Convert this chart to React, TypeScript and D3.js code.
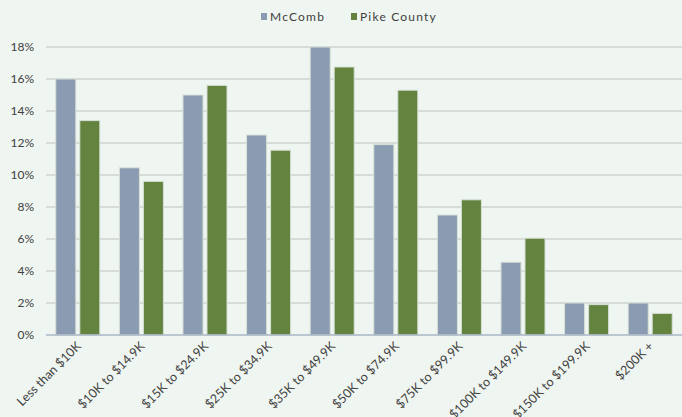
import React from "react";
import * as d3 from "d3";

const categories = [
  "Less than $10K",
  "$10K to $14.9K",
  "$15K to $24.9K",
  "$25K to $34.9K",
  "$35K to $49.9K",
  "$50K to $74.9K",
  "$75K to $99.9K",
  "$100K to $149.9K",
  "$150K to $199.9K",
  "$200K +",
];
const mccomb = [16.0, 10.45, 15.0, 12.5, 18.0, 11.9, 7.5, 4.55, 2.0, 2.0];
const pike = [13.4, 9.6, 15.6, 11.55, 16.75, 15.3, 8.45, 6.05, 1.9, 1.35];
const yTicks = [0, 2, 4, 6, 8, 10, 12, 14, 16, 18];
const seriesNames = ["McComb", "Pike County"];
const colors = ["#8a9bb2", "#63833f"];

const W = 682;
const H = 417;
const left = 46;
const right = 682;
const top = 47;
const bottom = 335;
const font = "Lato, 'Open Sans', sans-serif";

export default function App() {
  const x = d3.scaleBand<string>().domain(categories).range([left, right]).padding(0);
  const y = d3.scaleLinear().domain([0, 18]).range([bottom, top]);
  const barW = 20;
  const gap = 4;
  const series = [mccomb, pike];

  return (
    <svg
      width={W}
      height={H}
      style={{ position: "absolute", left: 0, top: 0, background: "#eff5f0" }}
    >
      <rect x={0} y={0} width={W} height={H} fill="#eff5f0" />
      {/* legend */}
      {seriesNames.map((n, i) => {
        const lx = i === 0 ? 261 : 351;
        return (
          <g key={n}>
            <rect x={lx} y={13} width={6} height={7} fill={colors[i]} />
            <text
              x={lx + 9}
              y={21}
              fontFamily={font}
              fontSize={12}
              letterSpacing={1.2}
              fill="#404040"
            >
              {n}
            </text>
          </g>
        );
      })}
      {/* gridlines */}
      {yTicks.map((t) => (
        <g key={t}>
          {t > 0 && (
            <line x1={left} x2={right} y1={y(t)} y2={y(t)} stroke="#bfc2bf" strokeWidth={1} />
          )}
          <text
            x={34}
            y={y(t) + 4}
            textAnchor="end"
            fontFamily={font}
            fontSize={12}
            fill="#404040"
          >
            {t}%
          </text>
        </g>
      ))}
      {/* bars */}
      {categories.map((c, ci) => {
        const cx = (x(c) as number) + x.bandwidth() / 2;
        return (
          <g key={c}>
            {series.map((s, si) => {
              const bx = si === 0 ? cx - gap / 2 - barW : cx + gap / 2;
              return (
                <rect
                  key={si}
                  x={bx}
                  y={y(s[ci])}
                  width={barW}
                  height={bottom - y(s[ci])}
                  fill={colors[si]}
                  stroke="#d6e0d6"
                  strokeWidth={1}
                />
              );
            })}
          </g>
        );
      })}
      {/* baseline */}
      <line x1={left} x2={right} y1={bottom} y2={bottom} stroke="#a9b6c6" strokeWidth={1.5} />
      {/* x labels */}
      {categories.map((c) => {
        const cx = (x(c) as number) + x.bandwidth() / 2;
        return (
          <text
            key={c}
            transform={`translate(${cx + 4},${bottom + 12}) rotate(-45)`}
            textAnchor="end"
            fontFamily={font}
            fontSize={12.5}
            fill="#404040"
          >
            {c}
          </text>
        );
      })}
    </svg>
  );
}
